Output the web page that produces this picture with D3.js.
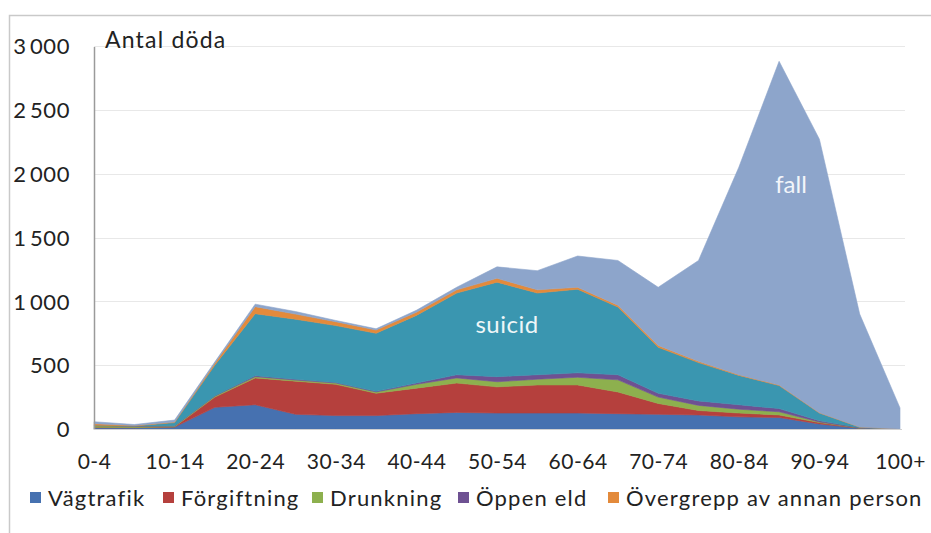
<!DOCTYPE html>
<html>
<head>
<meta charset="utf-8">
<script src="https://cdn.jsdelivr.net/npm/d3@7"></script>
<style>
  html, body { margin: 0; padding: 0; background: #fff; }
  svg { display: block; }
  text { font-family: Lato, "Open Sans", sans-serif; fill: #222; }
</style>
</head>
<body>
<svg id="chart" width="931" height="533"></svg>
<script>
const categories = ["0-4","5-9","10-14","15-19","20-24","25-29","30-34","35-39","40-44","45-49","50-54","55-59","60-64","65-69","70-74","75-79","80-84","85-89","90-94","95-99","100+"];
const xTickLabels = ["0-4","10-14","20-24","30-34","40-44","50-54","60-64","70-74","80-84","90-94","100+"];
const yTicks = [0, 500, 1000, 1500, 2000, 2500, 3000];

const vagtrafik   = [10,10,15,170,190,115,105,105,120,130,125,125,125,120,115,110,95,90,40,5,0];
const forgiftning = [3,1,2,80,210,260,245,175,200,230,205,220,220,170,85,35,30,20,10,2,0];
const drunkning   = [12,10,6,8,10,8,10,10,30,40,40,45,60,95,50,40,30,25,5,1,0];
const oppenEld    = [5,3,2,3,8,7,5,5,10,25,40,35,35,40,30,35,35,25,10,2,0];
const suicid      = [0,0,25,240,485,470,445,455,530,640,740,640,655,530,360,300,230,180,60,5,0];
const overgrepp   = [12,3,5,15,55,40,30,25,25,25,30,25,15,15,15,10,5,5,3,0,0];
const fall        = [15,8,15,10,20,20,10,10,15,20,90,150,245,350,455,790,1625,2535,2142,885,165];

const seriesNames = ["Vägtrafik","Förgiftning","Drunkning","Öppen eld","suicid","Övergrepp av annan person","fall"];
const seriesValues = [vagtrafik, forgiftning, drunkning, oppenEld, suicid, overgrepp, fall];
const seriesColors = ["#4671b0","#b5403d","#8db04e","#6e5192","#3a96b0","#e38a3b","#8da5cb"];
const legendNames = ["Vägtrafik","Förgiftning","Drunkning","Öppen eld","Övergrepp av annan person"];

const svg = d3.select("#chart");

// outer frame
svg.append("path")
  .attr("d", "M9.5,533 V15.5 H931")
  .attr("fill", "none").attr("stroke", "#c9c9c9").attr("stroke-width", 1.5);

const x = d3.scalePoint().domain(categories).range([94, 900]);
const y = d3.scaleLinear().domain([0, 3000]).range([429, 46]);

// gridlines
svg.append("g").selectAll("line").data(yTicks.filter(d => d > 0)).join("line")
  .attr("x1", 94).attr("x2", 905)
  .attr("y1", d => Math.round(y(d)) + 0.5).attr("y2", d => Math.round(y(d)) + 0.5)
  .attr("stroke", "#e8e8e8").attr("stroke-width", 1);

// stacked data
const table = categories.map((c, i) => {
  const row = { cat: c };
  seriesNames.forEach((n, k) => row[n] = seriesValues[k][i]);
  return row;
});
const stack = d3.stack().keys(seriesNames);
const layers = stack(table);

const area = d3.area()
  .x(d => x(d.data.cat))
  .y0(d => y(d[0]))
  .y1(d => y(d[1]));

svg.append("g").selectAll("path").data(layers).join("path")
  .attr("d", area)
  .attr("fill", (d, i) => seriesColors[i])
  .attr("stroke", (d, i) => seriesColors[i])
  .attr("stroke-width", 0.6);

// y axis
const yAxis = d3.axisLeft(y).tickValues(yTicks).tickSize(0).tickPadding(0)
  .tickFormat(d => d3.format(",")(d).replace(",", "\u2009"));
const gy = svg.append("g").attr("transform", "translate(70,0)").call(yAxis);
gy.select(".domain").remove();
gy.selectAll("text").attr("font-size", 22).attr("fill", "#222")
  .attr("font-family", "Lato, sans-serif").attr("dy", "0.35em")
  .style("letter-spacing", "0.6px");

svg.append("line").attr("x1", 94.5).attr("x2", 94.5).attr("y1", 47).attr("y2", 430)
  .attr("stroke", "#9a9a9a").attr("stroke-width", 1.5);
svg.append("line").attr("x1", 94).attr("x2", 902).attr("y1", 429.5).attr("y2", 429.5)
  .attr("stroke", "#d0d0d0").attr("stroke-width", 1);

// x axis
const xAxis = d3.axisBottom(x).tickValues(xTickLabels).tickSize(0).tickPadding(0);
const gx = svg.append("g").attr("transform", "translate(0,462)").call(xAxis);
gx.select(".domain").remove();
gx.selectAll("text").attr("font-size", 21).attr("fill", "#222")
  .attr("font-family", "Lato, sans-serif").attr("dy", "0.35em")
  .style("letter-spacing", "0.5px");

// titles / labels
svg.append("text").attr("x", 105).attr("y", 48).attr("font-size", 23)
  .style("letter-spacing", "1.2px").text("Antal döda");
svg.append("text").attr("x", x("50-54") + 10).attr("y", 333).attr("text-anchor", "middle")
  .attr("font-size", 24).style("fill", "#eef6f8").style("letter-spacing", "0.5px").text("suicid");
svg.append("text").attr("x", x("85-89") + 12).attr("y", 193).attr("text-anchor", "middle")
  .attr("font-size", 24).style("fill", "#f2f5fa").text("fall");

// legend
const legendX = [30, 163, 312, 458, 608];
const lg = svg.append("g").selectAll("g").data(legendNames).join("g")
  .attr("transform", (d, i) => `translate(${legendX[i]},0)`);
lg.append("rect").attr("x", 0).attr("y", 492).attr("width", 11).attr("height", 11)
  .attr("fill", (d, i) => seriesColors[seriesNames.indexOf(d)]);
lg.append("text").attr("x", 18).attr("y", 506).attr("font-size", 22)
  .style("letter-spacing", "1.2px").text(d => d);
</script>
</body>
</html>
